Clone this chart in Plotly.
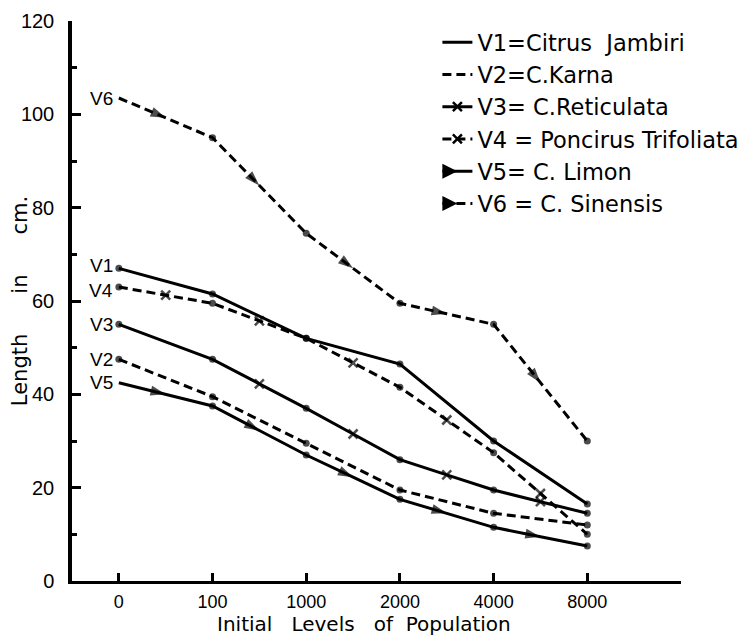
import plotly.graph_objects as go

categories = ["0", "100", "1000", "2000", "4000", "8000"]
v1 = [67, 61.5, 52, 46.5, 30, 16.5]
v2 = [47.5, 39.5, 29.5, 19.5, 14.5, 12]
v3 = [55, 47.5, 37, 26, 19.5, 14.5]
v4 = [63, 59.5, 52, 41.5, 27.5, 10]
v5 = [42.5, 37.5, 27, 17.5, 11.5, 7.5]
v6 = [103.5, 95, 74.5, 59.5, 55, 30]
short_names = ["V1", "V2", "V3", "V4", "V5", "V6"]
legend_names = ["V1=Citrus\u00a0\u00a0Jambiri", "V2=C.Karna", "V3=\u00a0C.Reticulata",
                "V4\u00a0=\u00a0Poncirus Trifoliata", "V5=\u00a0C.\u00a0Limon", "V6\u00a0=\u00a0C.\u00a0Sinensis"]
x_title = "Initial\u00a0\u00a0\u00a0Levels\u00a0\u00a0\u00a0of\u00a0\u00a0Population"
y_title = "Length\u00a0\u00a0\u00a0\u00a0\u00a0\u00a0in\u00a0\u00a0\u00a0\u00a0\u00a0\u00a0cm."

series = [v1, v2, v3, v4, v5, v6]
dashes = ["solid", "9px,5px", "solid", "9px,5px", "solid", "9px,5px"]
glyphs = [None, None, "x", "x", "arrow", "arrow"]
# which segments carry a mid-segment glyph
glyph_segments = [
    [False] * 5,
    [False] * 5,
    [False, True, True, True, True],
    [True] * 5,
    [True] * 5,
    [True] * 5,
]
label_shift = [3, 0, 0, -3, 0, 0]

FONT = "Liberation Sans, Arial, sans-serif"
WIDE = "DejaVu Sans, Liberation Sans, sans-serif"
LW = 3
fig = go.Figure()

for k, vals in enumerate(series):
    xs, ys, syms, sizes, lws = [], [], [], [], []
    for i, v in enumerate(vals):
        xs.append(i); ys.append(v); syms.append("circle"); sizes.append(7); lws.append(0)
        if i < len(vals) - 1 and glyph_segments[k][i]:
            xs.append(i + 0.5)
            ys.append((vals[i] + vals[i + 1]) / 2)
            if glyphs[k] == "x":
                syms.append("x-thin"); sizes.append(9); lws.append(2.5)
            else:
                syms.append("arrow"); sizes.append(16); lws.append(0)
    marker = dict(symbol=syms, size=sizes, color="black",
                  line=dict(width=lws, color="black"))
    if glyphs[k] == "arrow":
        marker["angleref"] = "previous"
    fig.add_trace(go.Scatter(
        x=xs, y=ys, mode="lines+markers", showlegend=False,
        line=dict(color="black", width=LW, dash=dashes[k]),
        marker=marker, hoverinfo="skip"))

# legend entries
for k in range(6):
    if glyphs[k] is None:
        mode = "lines"
        mk = dict(color="black")
    elif glyphs[k] == "x":
        mode = "lines+markers"
        mk = dict(symbol="x-thin", size=9, color="black", line=dict(width=2.5, color="black"))
    else:
        mode = "lines+markers"
        mk = dict(symbol="arrow-right", size=15, color="black")
    fig.add_trace(go.Scatter(
        x=[None], y=[None], mode=mode, name=legend_names[k], legendgroup=short_names[k],
        line=dict(color="black", width=LW, dash=dashes[k]), marker=mk))

# start labels
for k, vals in enumerate(series):
    fig.add_annotation(x=0, y=vals[0], text=short_names[k], showarrow=False,
                       xanchor="right", yanchor="middle", xshift=-4, yshift=label_shift[k],
                       font=dict(family=FONT, size=19, color="black"))

# x axis title
fig.add_annotation(x=0.479, y=0, xref="paper", yref="paper", text=x_title, showarrow=False,
                   xanchor="center", yanchor="middle", yshift=-43,
                   font=dict(family=WIDE, size=20, color="black"))

fig.update_layout(
    width=748, height=636,
    margin=dict(l=63.5, r=46, t=13, b=63),
    paper_bgcolor="white", plot_bgcolor="white",
    font=dict(family=FONT, color="black"),
    legend=dict(x=0.60, y=1.0, xanchor="left", yanchor="top",
                font=dict(family=WIDE, size=22.5, color="black"),
                tracegroupgap=0, bgcolor="rgba(0,0,0,0)"),
)

fig.update_xaxes(
    range=[-0.5, 6], tickvals=list(range(7)), ticktext=categories + [""],
    showgrid=False, zeroline=False, showline=True, linecolor="black", linewidth=3,
    ticks="inside", ticklen=8, tickwidth=3, tickcolor="black", automargin=False,
    tickfont=dict(family=FONT, size=18, color="black"), ticklabelstandoff=2,
    ticklabeloverflow="allow",
)
fig.update_yaxes(
    range=[0, 120], tickvals=list(range(0, 121, 20)),
    showgrid=False, zeroline=False, showline=True, linecolor="black", linewidth=3.5,
    ticks="inside", ticklen=9, tickwidth=3, tickcolor="black", automargin=False,
    minor=dict(dtick=10, ticks="inside", ticklen=5, tickwidth=2.5, tickcolor="black", showgrid=False),
    tickfont=dict(family=FONT, size=20, color="black"), ticklabelstandoff=10,
    ticklabeloverflow="allow",
    title=dict(text=y_title, font=dict(family=WIDE, size=21, color="black"), standoff=8),
)

fig.write_html("out.html")
